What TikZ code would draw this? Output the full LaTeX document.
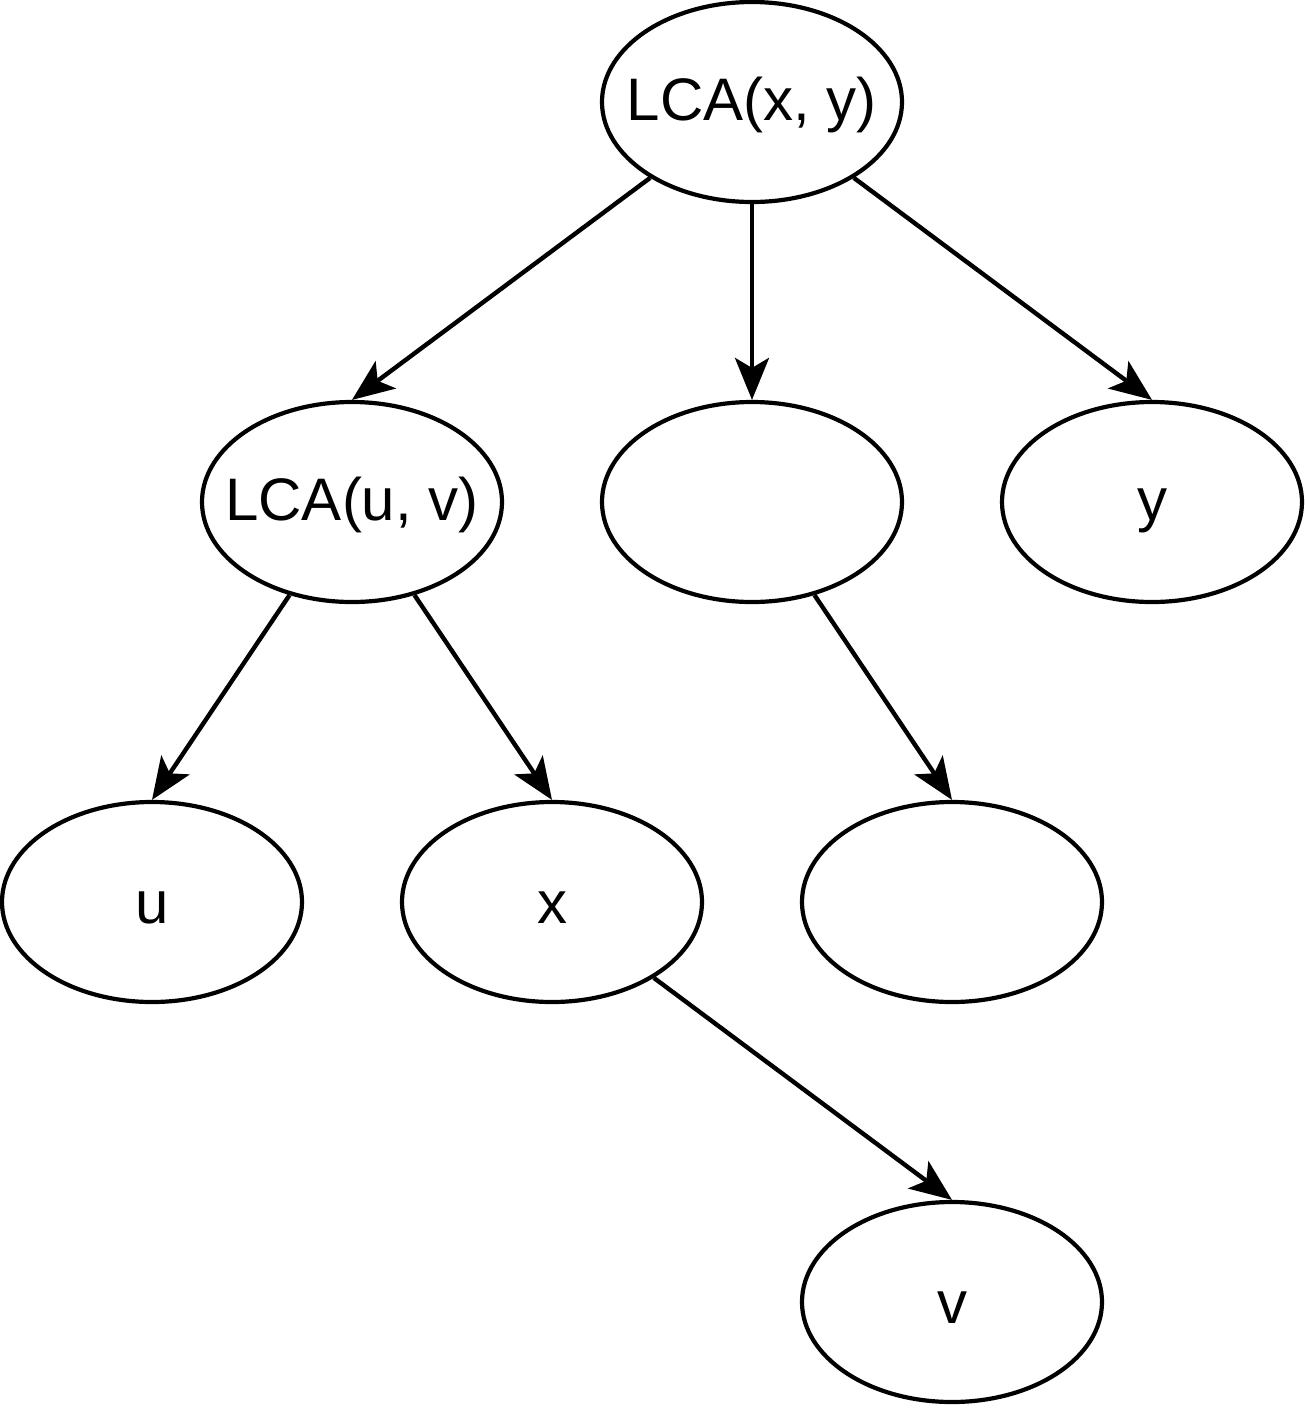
\documentclass[tikz,border=0pt]{standalone}
\usepackage{fontspec}
\setmainfont{Liberation Sans}
\usetikzlibrary{shapes.geometric,arrows.meta}
\newcommand{\nodetext}[1]{\makebox[0pt]{\rule[-4pt]{0pt}{29pt}#1}}
\begin{document}
\begin{tikzpicture}[x=0.5pt,y=-0.5pt,
  treenode/.style={draw,ellipse,line width=2.1pt,minimum width=150pt,minimum height=100pt,inner sep=0pt,font=\fontsize{30}{36}\selectfont},
  edge/.style={line width=2.2pt,-{Stealth[length=21pt,width=17pt,inset=5pt]}}]
\useasboundingbox (0,0) rectangle (1305,1410);
\node[treenode] (root) at (752,102) {\nodetext{LCA(x, y)}};
\node[treenode] (lcauv) at (352,502) {\nodetext{LCA(u, v)}};
\node[treenode] (mid) at (752,502) {};
\node[treenode] (y) at (1152,502) {\nodetext{y}};
\node[treenode] (u) at (152,902) {\nodetext{u}};
\node[treenode] (x) at (552,902) {\nodetext{x}};
\node[treenode] (blank) at (952,902) {};
\node[treenode] (v) at (952,1302) {\nodetext{v}};
\draw[edge] (root) -- (lcauv.north);
\draw[edge] (root) -- (mid.north);
\draw[edge] (root) -- (y.north);
\draw[edge] (lcauv) -- (u.north);
\draw[edge] (lcauv) -- (x.north);
\draw[edge] (mid) -- (blank.north);
\draw[edge] (x) -- (v.north);
\end{tikzpicture}
\end{document}
